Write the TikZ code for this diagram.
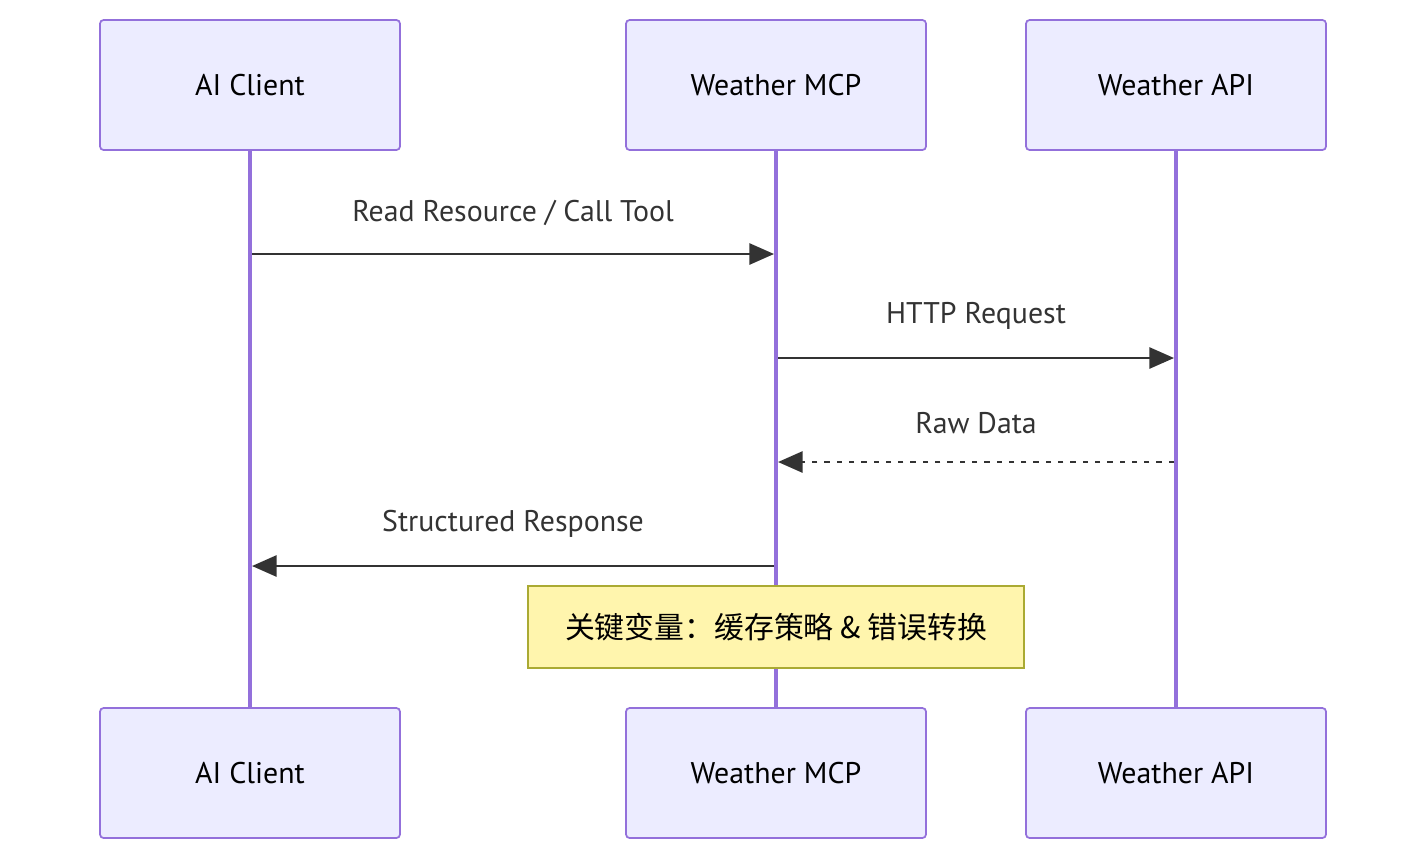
\documentclass[tikz,border=0pt]{standalone}
\usepackage{fontspec}
\setmainfont{PT Sans}
\newfontfamily\cjk{Noto Sans CJK SC}
\usetikzlibrary{arrows.meta}
\definecolor{actorfill}{HTML}{ECECFF}
\definecolor{actorline}{HTML}{9370DB}
\definecolor{notefill}{HTML}{FFF5AD}
\definecolor{noteline}{HTML}{AAAA33}
\definecolor{msgcolor}{HTML}{333333}
\begin{document}
\begin{tikzpicture}
			[x=0.02cm,y=-0.02cm,
			%Styles
			actor/.style={draw=actorline,fill=actorfill,line width=1pt,rounded corners=2pt,
				minimum width=6cm,minimum height=2.6cm,font=\fontsize{17}{20}\selectfont},
			lifeline/.style={actorline,line width=2pt},
			message/.style={msgcolor,line width=1.4pt,-{Triangle[length=14pt,width=12pt]}},
			reply/.style={message,dash pattern=on 3pt off 4pt},
			msg text/.style={above=12pt,text=msgcolor,font=\fontsize{17}{20}\selectfont},
			note/.style={draw=noteline,fill=notefill,line width=1pt,minimum width=9.92cm,
				minimum height=1.64cm,font=\cjk\fontsize{17}{20}\selectfont}
			]
			\useasboundingbox (0,0) rectangle (1426,860);
			
			%Lifelines
			\draw[lifeline] (250,150) -- (250,708);
			\draw[lifeline] (776,150) -- (776,708);
			\draw[lifeline] (1176,150) -- (1176,708);
			
			%Actors
			\node[actor] (client) at (250,85) {AI Client};
			\node[actor] (mcp) at (776,85) {Weather MCP};
			\node[actor] (api) at (1176,85) {Weather API};
			\node[actor] (client2) at (250,773) {AI Client};
			\node[actor] (mcp2) at (776,773) {Weather MCP};
			\node[actor] (api2) at (1176,773) {Weather API};
			
			%Messages
			\coordinate (c1) at (252,254); \coordinate (m1) at (774,254);
			\coordinate (m2) at (778,358); \coordinate (a2) at (1174,358);
			\coordinate (a3) at (1174,462); \coordinate (m3) at (778,462);
			\coordinate (m4) at (774,566); \coordinate (c4) at (252,566);
			\draw[message] (c1) -- node[msg text] {Read Resource / Call Tool} (m1);
			\draw[message] (m2) -- node[msg text] {HTTP Request} (a2);
			\draw[reply] (a3) -- node[msg text] {Raw Data} (m3);
			\draw[message] (m4) -- node[msg text] {Structured Response} (c4);
			
			%Note
			\node[note] (hint) at (776,627) {关键变量：缓存策略 \& 错误转换};
		\end{tikzpicture}
\end{document}
